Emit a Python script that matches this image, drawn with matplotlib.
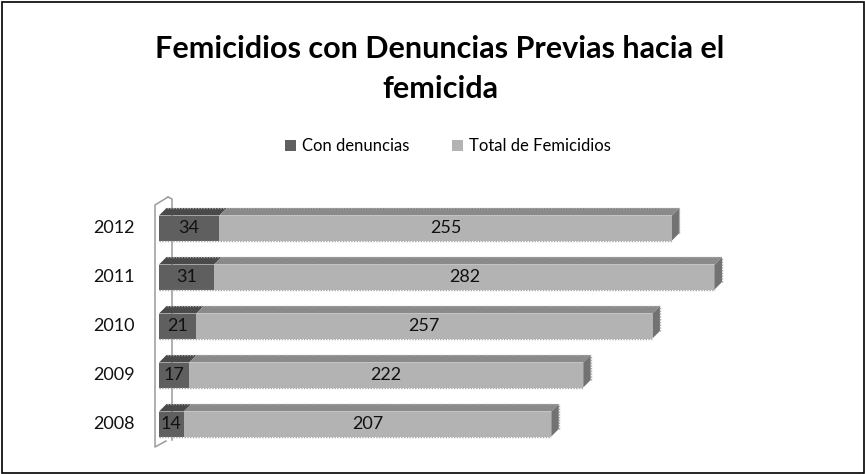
import matplotlib
matplotlib.use("Agg")
import matplotlib.pyplot as plt
from matplotlib.patches import Polygon, Rectangle
from matplotlib.lines import Line2D

years = ["2008", "2009", "2010", "2011", "2012"]
con_denuncias = [14, 17, 21, 31, 34]
total_femicidios = [207, 222, 257, 282, 255]
series_names = ["Con denuncias", "Total de Femicidios"]
title = "Femicidios con Denuncias Previas hacia el\nfemicida"

plt.rcParams["font.family"] = ["Lato", "DejaVu Sans"]

W, H = 865, 474
fig = plt.figure(figsize=(W / 100, H / 100), dpi=100)

# outer border
fig.add_artist(Rectangle((1.5 / W, 1.5 / H), (W - 3) / W, (H - 3) / H,
                         transform=fig.transFigure, fill=False, lw=1.2, ec="black"))

# axes geometry (pixels)
ax_l, ax_r, ax_t, ax_b = 159, 759, 195, 455
px_per_unit = 1.775
spacing = 49.0
c2012 = 228.0
ax = fig.add_axes([ax_l / W, 1 - ax_b / H, (ax_r - ax_l) / W, (ax_b - ax_t) / H])
ax.set_xlim(0, (ax_r - ax_l) / px_per_unit)
top_unit = 4 + (c2012 - ax_t) / spacing
ax.set_ylim(top_unit - (ax_b - ax_t) / spacing, top_unit)
ax.axis("off")

ypos = list(range(len(years)))
h = 25 / spacing
dx = 7.5 / px_per_unit
dy = 7.5 / spacing

front = {"dark": "#5f5f5f", "light": "#b3b3b3"}
topc = {"dark": "#4a4a4a", "light": "#8a8a8a"}
side = "#727272"

for y, c, t in zip(ypos, con_denuncias, total_femicidios):
    segs = [(0, c, "dark"), (c, c + t, "light")]
    for x0, x1, k in segs:
        ax.barh(y, x1 - x0, left=x0, height=h, color=front[k], edgecolor="none", zorder=2)
        ax.add_patch(Polygon([(x0, y + h / 2), (x1, y + h / 2), (x1 + dx, y + h / 2 + dy),
                              (x0 + dx, y + h / 2 + dy)], closed=True, fc=topc[k], ec="none",
                             zorder=2))
    xe = c + t
    ax.add_patch(Polygon([(xe, y - h / 2), (xe + dx, y - h / 2 + dy), (xe + dx, y + h / 2 + dy),
                          (xe, y + h / 2)], closed=True, fc=side, ec="none", zorder=2))
    # stippled edges
    ax.add_line(Line2D([dx, xe + dx], [y + h / 2 + dy, y + h / 2 + dy], color="#a8a8a8",
                       lw=1.0, ls=(0, (1, 1)), zorder=3))
    ax.add_line(Line2D([0, xe], [y - h / 2, y - h / 2], color="#a8a8a8",
                       lw=1.0, ls=(0, (1, 1)), zorder=3))
    ax.add_line(Line2D([xe + dx, xe + dx], [y - h / 2 + dy, y + h / 2 + dy], color="#a8a8a8",
                       lw=1.0, ls=(0, (1, 1)), zorder=3))
    ax.text(c / 2, y, str(c), ha="center", va="center", fontsize=13, color="#111111", zorder=4)
    ax.text(c + t / 2, y, str(t), ha="center", va="center", fontsize=13, color="#111111", zorder=4)
    ax.text(-24 / px_per_unit, y, years[y], ha="right", va="center", fontsize=13,
            color="#111111", clip_on=False)

# 3D axis wall bracket (pixel offsets converted to data units)
def px(xp, yp):
    return ((xp - ax_l) / px_per_unit, top_unit - (yp - ax_t) / spacing)

wall = dict(color="#9a9a9a", lw=1.1, clip_on=False, zorder=1)
pts_outer = [px(168, 197), px(155, 205), px(155, 447), px(166, 441)]
ax.add_line(Line2D([p[0] for p in pts_outer], [p[1] for p in pts_outer], **wall))
pts_back = [px(168, 197), px(172, 199), px(172, 440)]
ax.add_line(Line2D([p[0] for p in pts_back], [p[1] for p in pts_back], **wall))

fig.text(440 / W, 1 - 69 / H, title, ha="center", va="center", fontsize=22,
         fontweight="bold", linespacing=1.55)

# legend
handles = [Rectangle((0, 0), 1, 1, fc=front["dark"]), Rectangle((0, 0), 1, 1, fc=front["light"])]
fig.legend(handles, series_names, loc="center", bbox_to_anchor=(448 / W, 1 - 146 / H),
           ncol=2, frameon=False, fontsize=12, handlelength=0.65, handleheight=0.65,
           handletextpad=0.35, columnspacing=2.6)

fig.savefig("out.png", dpi=100)
